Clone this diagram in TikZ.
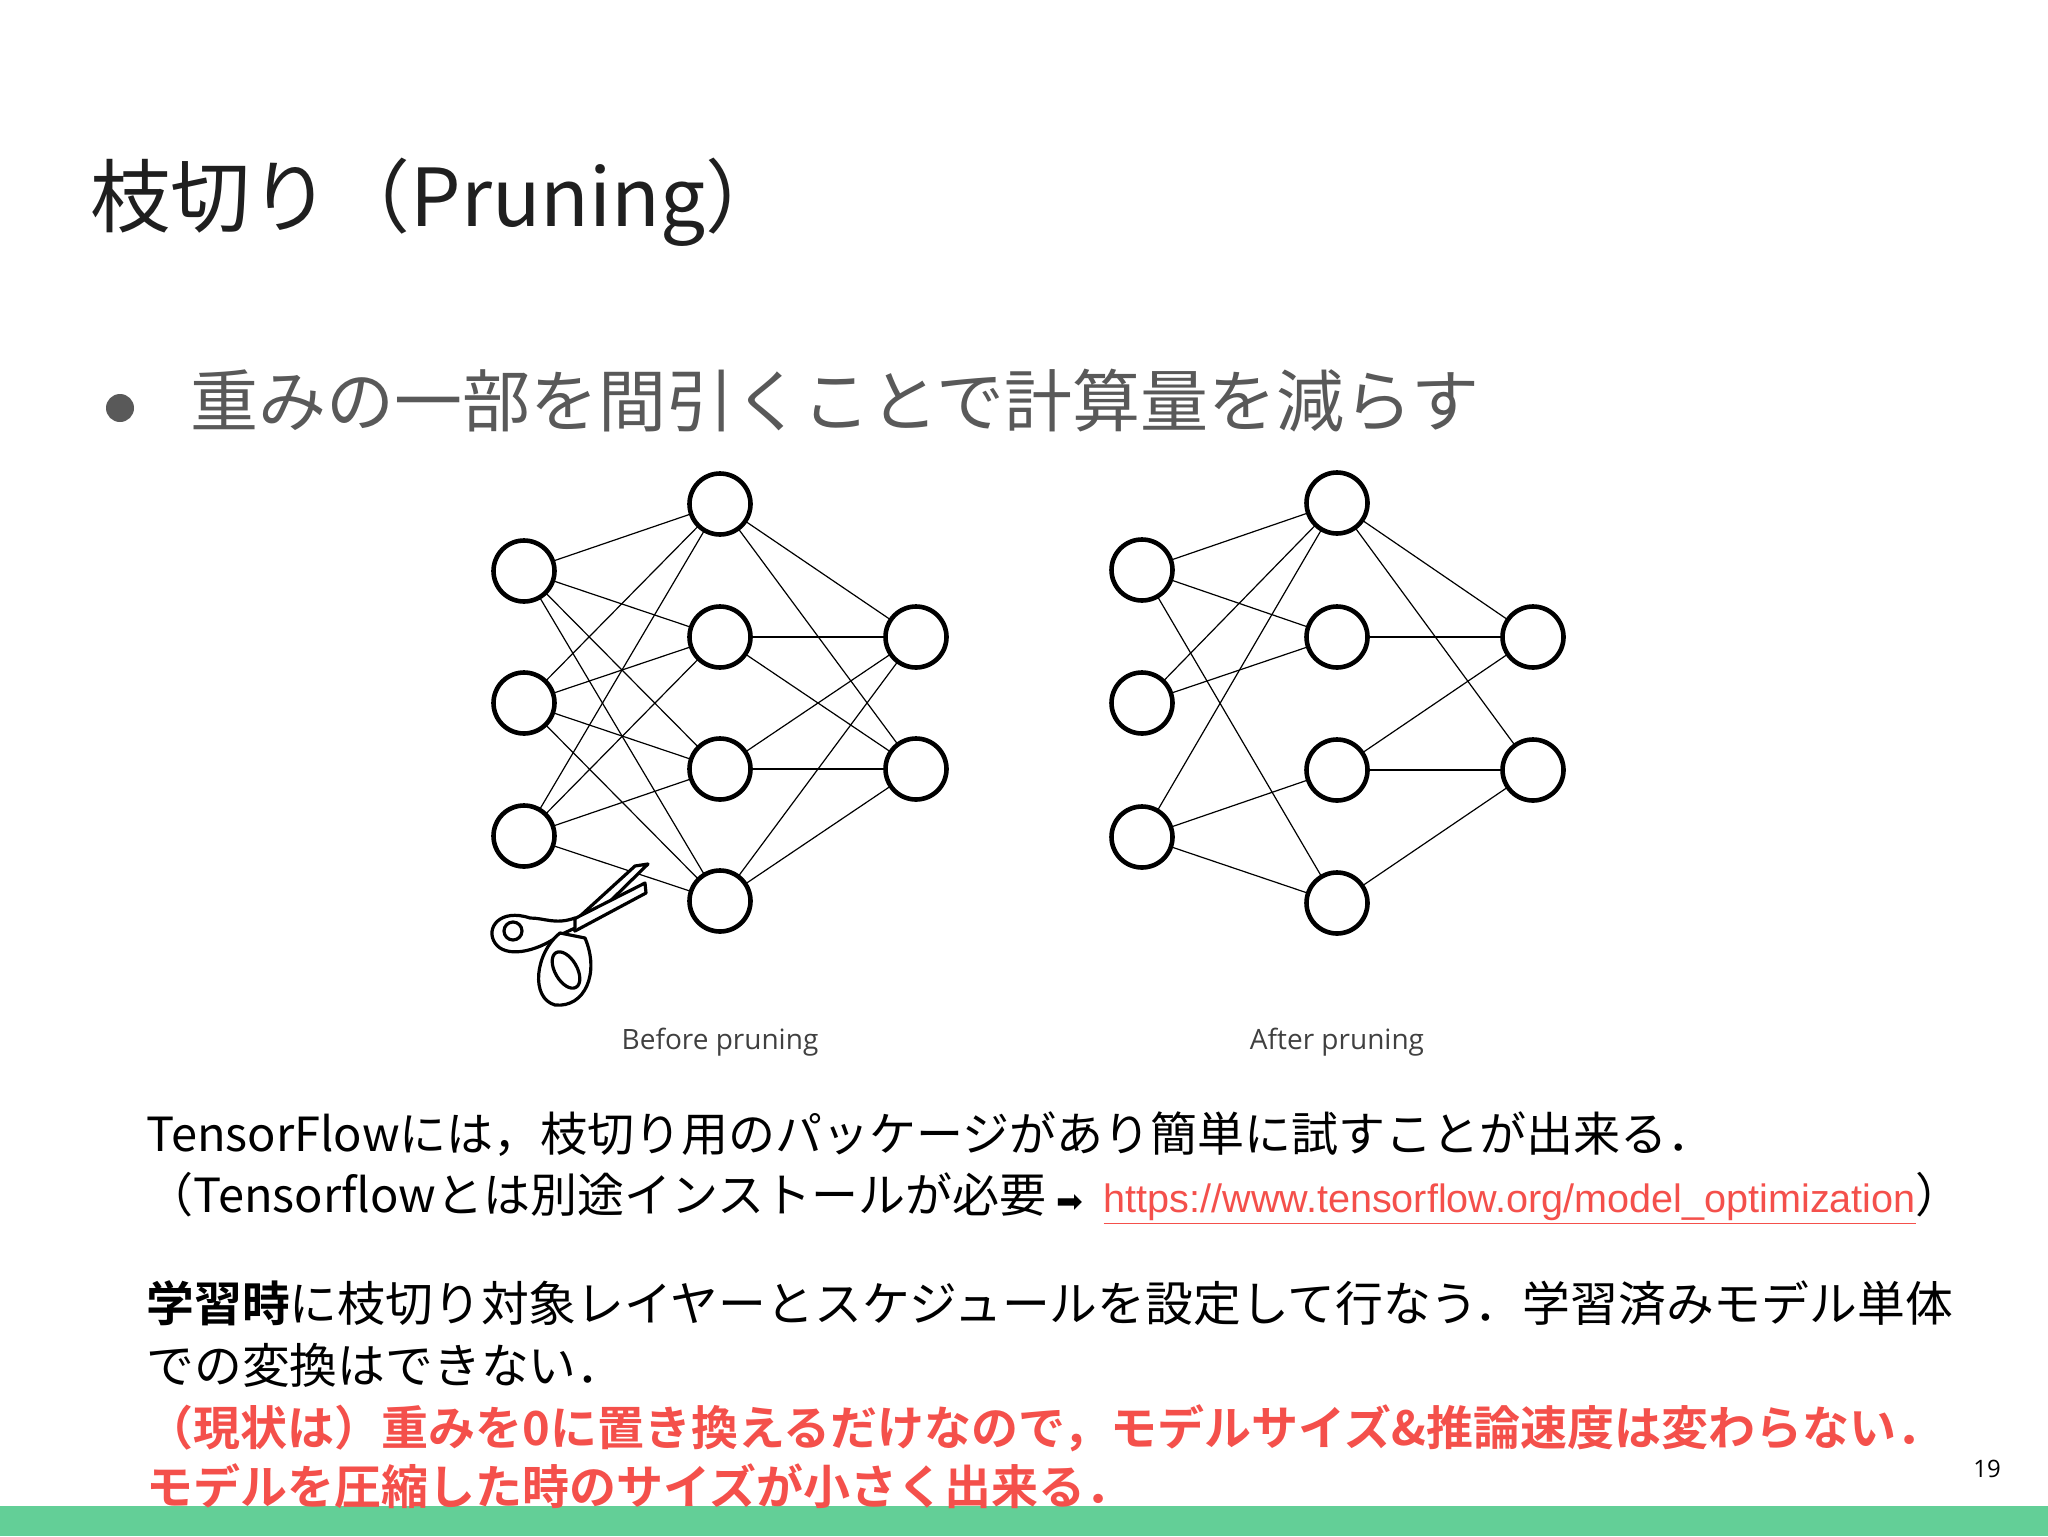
\documentclass[tikz,border=0pt]{standalone}
\usepackage{fontspec}
\setmainfont{Noto Sans CJK JP}
\newfontfamily\cjkb{Noto Sans CJK JP Bold}
\newfontfamily\capf{Open Sans}
\newfontfamily\urlf{Liberation Sans}
\newfontfamily\symf{DejaVu Sans}
\usetikzlibrary{calc}
\definecolor{redtxt}{HTML}{F4504B}
\definecolor{barg}{HTML}{63CF97}
\definecolor{graytxt}{HTML}{595959}
\tikzset{neuron/.style={circle,draw,line width=2.3pt,minimum size=30.5pt,inner sep=0,fill=white},
 edge/.style={line width=0.6pt},
 txt/.style={anchor=west,inner sep=0},
 body/.style={txt,font=\fontsize{23.5pt}{28pt}\selectfont}}
\begin{document}
\begin{tikzpicture}[x=0.5pt,y=-0.5pt]
\fill[white] (0,0) rectangle (2048,1536);
\useasboundingbox (0,0) rectangle (2048,1536);
\fill[barg] (0,1506) rectangle (2048,1536);
% title
\node[txt,text=black!88,font=\fontsize{40pt}{48pt}\selectfont] (title) at (90,202) {枝切り（Pruning）};
\node[circle,fill=graytxt,minimum size=14pt,inner sep=0] (dot) at (120,408) {};
\node[txt,text=graytxt,font=\fontsize{34pt}{40pt}\selectfont] (bul) at (190,401) {重みの一部を間引くことで計算量を減らす};
% before network
\foreach \n/\y in {1/571,2/703,3/836} \coordinate (bi\n) at (524,\y);
\foreach \n/\y in {1/504,2/637,3/769,4/901} \coordinate (bh\n) at (720,\y);
\foreach \n/\y in {1/637,2/769} \coordinate (bo\n) at (916,\y);
\foreach \i in {1,2,3}{\foreach \h in {1,2,3,4}{\draw[edge] (bi\i) -- (bh\h);}}
\foreach \h in {1,2,3,4}{\foreach \o in {1,2}{\draw[edge] (bh\h) -- (bo\o);}}
\foreach \n in {1,2,3} \node[neuron] (BI\n) at (bi\n) {};
\foreach \n in {1,2,3,4} \node[neuron] (BH\n) at (bh\n) {};
\foreach \n in {1,2} \node[neuron] (BO\n) at (bo\n) {};
% scissors
\begin{scope}[line width=1.6pt,fill=white,line join=round]
\draw[fill=white] (648,864) -- (635,866) -- (578,918) -- (590,921) -- cycle;
\draw[fill=white] (645,883) -- (646,893) -- (575,931) -- (570,921) -- cycle;
\draw[fill=white] (575,918) .. controls (555,925) and (545,918) .. (530,918) .. controls (500,908) and (485,928) .. (495,943) .. controls (505,958) and (535,953) .. (560,935) -- (575,928) -- cycle;
\draw (513,931) circle (9);
\draw[fill=white] (560,933) .. controls (535,953) and (530,998) .. (555,1005) .. controls (585,1008) and (600,973) .. (585,938) -- cycle;
\draw[rotate around={-60:(566,970)}] (566,970) ellipse (20 and 11);
\end{scope}
% after network
\foreach \n/\y in {1/570,2/703,3/837} \coordinate (ai\n) at (1142,\y);
\foreach \n/\y in {1/503,2/637,3/770,4/903} \coordinate (ah\n) at (1337,\y);
\foreach \n/\y in {1/637,2/770} \coordinate (ao\n) at (1533,\y);
\foreach \a/\b in {i1/h1,i1/h2,i1/h4,i2/h1,i2/h2,i3/h1,i3/h3,i3/h4,h1/o1,h1/o2,h2/o1,h3/o1,h3/o2,h4/o2}
  \draw[edge] (a\a) -- (a\b);
\foreach \n in {1,2,3} \node[neuron] (AI\n) at (ai\n) {};
\foreach \n in {1,2,3,4} \node[neuron] (AH\n) at (ah\n) {};
\foreach \n in {1,2} \node[neuron] (AO\n) at (ao\n) {};
\node[inner sep=0,text=black!75,font=\capf\fontsize{14pt}{16pt}\selectfont] (cb) at (720,1042) {Before pruning};
\node[inner sep=0,text=black!75,font=\capf\fontsize{14pt}{16pt}\selectfont] (ca) at (1337,1042) {After pruning};
% body
\node[body] (l1) at (146,1134) {TensorFlowには，枝切り用のパッケージがあり簡単に試すことが出来る．};
\node[body] (l2) at (146,1198) {（Tensorflowとは別途インストールが必要 {\symf\fontsize{16pt}{18pt}\selectfont ➡}\hspace{10pt}{\urlf\fontsize{19.8pt}{22pt}\selectfont\color{redtxt}\underline{https://www.tensorflow.org/model\_optimization}}）};
\node[body,font=\fontsize{23.9pt}{28pt}\selectfont] (l3) at (146,1303) {{\cjkb 学習時}に枝切り対象レイヤーとスケジュールを設定して行なう．学習済みモデル単体};
\node[body,font=\fontsize{23.9pt}{28pt}\selectfont] (l4) at (146,1365) {での変換はできない．};
\node[body,text=redtxt,font=\cjkb\fontsize{23.5pt}{28pt}\selectfont] (l5) at (146,1428) {（現状は）重みを0に置き換えるだけなので，モデルサイズ\&推論速度は変わらない．};
\node[body,text=redtxt,font=\cjkb\fontsize{23.5pt}{28pt}\selectfont] (l6) at (146,1486) {モデルを圧縮した時のサイズが小さく出来る．};
\node[inner sep=0,font=\capf\fontsize{12pt}{14pt}\selectfont] (pg) at (1987,1469) {19};
\end{tikzpicture}
\end{document}
